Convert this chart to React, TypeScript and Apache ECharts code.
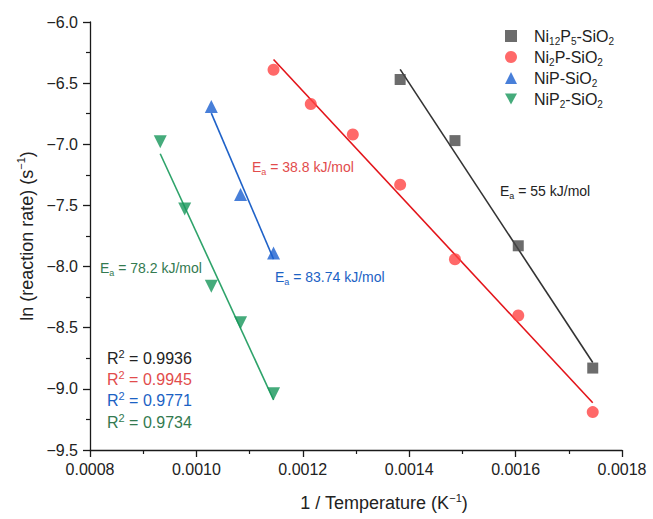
import React, { useEffect, useRef } from "react";
import * as echarts from "echarts";

// ---- data ----
const ni12p5X = [0.001383, 0.001486, 0.001605, 0.001745];
const ni12p5Y = [-6.47, -6.97, -7.83, -8.83];

const ni2pX = [0.001145, 0.001215, 0.001294, 0.001383, 0.001486, 0.001605, 0.001745];
const ni2pY = [-6.39, -6.67, -6.92, -7.33, -7.94, -8.4, -9.19];

const nipX = [0.001028, 0.001083, 0.001145];
const nipY = [-6.69, -7.41, -7.89];

const nip2X = [0.000932, 0.000978, 0.001028, 0.001083, 0.001145];
const nip2Y = [-6.98, -7.53, -8.16, -8.46, -9.04];

const seriesNames = ["Ni12P5-SiO2", "Ni2P-SiO2", "NiP-SiO2", "NiP2-SiO2"];
const legendLabels = [
  "{sp|}{n|Ni}{s|12}{n|P}{s|5}{n|-SiO}{s|2}",
  "{sp|}{n|Ni}{s|2}{n|P-SiO}{s|2}",
  "{sp|}{n|NiP-SiO}{s|2}",
  "{sp|}{n|NiP}{s|2}{n|-SiO}{s|2}",
];
const eaLabels = ["55 kJ/mol", "38.8 kJ/mol", "83.74 kJ/mol", "78.2 kJ/mol"];
const r2Labels = ["0.9936", "0.9945", "0.9771", "0.9734"];

const xTickMin = 0.0008;
const xTickMax = 0.0018;
const xTickStep = 0.0002;
const yTickMin = -9.5;
const yTickMax = -6.0;
const yTickStep = 0.5;

const pointColors = ["#474747", "#ff4444", "#1a5fcf", "#16965a"];
const lineColors = ["#333333", "#e3141a", "#1f62c8", "#2ea36a"];
const textColors = ["#222222", "#e24c4c", "#1b62c4", "#337a50"];
const symbols = ["rect", "circle", "triangle", "path://M0,0L10,0L5,9Z"];
const symbolSizes = [11, 12, 13, 13];

const FONT = "'Liberation Sans', Arial, Helvetica, sans-serif";

function fit(xs: number[], ys: number[]) {
  const n = xs.length;
  const mx = xs.reduce((a, b) => a + b, 0) / n;
  const my = ys.reduce((a, b) => a + b, 0) / n;
  let sxy = 0;
  let sxx = 0;
  for (let i = 0; i < n; i++) {
    sxy += (xs[i] - mx) * (ys[i] - my);
    sxx += (xs[i] - mx) * (xs[i] - mx);
  }
  const k = sxy / sxx;
  const b = my - k * mx;
  const x0 = Math.min(...xs);
  const x1 = Math.max(...xs);
  return [
    [x0, k * x0 + b],
    [x1, k * x1 + b],
  ];
}

function eaText(label: string, color: string, x: number, y: number) {
  return {
    type: "text",
    x,
    y,
    silent: true,
    style: {
      text: "{e|E}{a|a}{e| = " + label + "}",
      verticalAlign: "middle",
      rich: {
        e: { fontSize: 14, fontFamily: FONT, fill: color, lineHeight: 18 },
        a: { fontSize: 9, fontFamily: FONT, fill: color, lineHeight: 9, verticalAlign: "bottom" },
      },
    },
  };
}

function r2Text(label: string, color: string, x: number, y: number) {
  return {
    type: "text",
    x,
    y,
    silent: true,
    style: {
      text: "{r|R}{p|2}{r| = " + label + "}",
      verticalAlign: "middle",
      rich: {
        r: { fontSize: 16, fontFamily: FONT, fill: color, lineHeight: 20 },
        p: { fontSize: 11, fontFamily: FONT, fill: color, lineHeight: 11, verticalAlign: "top" },
      },
    },
  };
}

export default function App() {
  const ref = useRef<HTMLDivElement>(null);

  useEffect(() => {
    if (!ref.current) return;
    const chart = echarts.init(ref.current, undefined, { renderer: "svg" });
    const sets = [
      [ni12p5X, ni12p5Y],
      [ni2pX, ni2pY],
      [nipX, nipY],
      [nip2X, nip2Y],
    ];
    const scatter = sets.map((s, i) => ({
      name: seriesNames[i],
      type: "scatter",
      symbol: symbols[i],
      symbolSize: symbolSizes[i],
      itemStyle: { color: pointColors[i] },
      data: s[0].map((x, j) => [x, s[1][j]]),
      z: 3,
    }));
    const lines = sets.map((s, i) => ({
      name: "fit" + i,
      type: "line",
      showSymbol: false,
      symbol: "none",
      silent: true,
      lineStyle: { color: lineColors[i], width: 1.6 },
      data: fit(s[0], s[1]),
      z: 2,
    }));

    const axisCommon = {
      axisLine: { show: true, lineStyle: { color: "#1a1a1a", width: 1.3 } },
      axisTick: { show: true, inside: false, length: 7, lineStyle: { color: "#1a1a1a", width: 1.3 } },
      minorTick: { show: true, splitNumber: 2, length: 4, lineStyle: { color: "#1a1a1a", width: 1.2 } },
      splitLine: { show: false },
      axisLabel: { color: "#222", fontSize: 16, fontFamily: FONT },
    };

    const titleRich = {
      n: { fontSize: 18, fontFamily: FONT, color: "#222", lineHeight: 22 },
      s: { fontSize: 11, fontFamily: FONT, color: "#222", lineHeight: 12, verticalAlign: "top" },
    };

    chart.setOption({
      animation: false,
      backgroundColor: "#ffffff",
      grid: { left: 90, right: 31, top: 22, bottom: 69, containLabel: false },
      xAxis: {
        type: "value",
        min: xTickMin,
        max: xTickMax,
        interval: xTickStep,
        ...axisCommon,
        axisLabel: { ...axisCommon.axisLabel, margin: 11, formatter: (v: number) => v.toFixed(4) },
        name: "{n|1 / Temperature (K}{s|−1}{n|)}",
        nameLocation: "middle",
        nameGap: 42,
        nameTextStyle: { color: "#222", padding: [0, 0, 0, 56], rich: titleRich },
      },
      yAxis: {
        type: "value",
        min: yTickMin,
        max: yTickMax,
        interval: yTickStep,
        ...axisCommon,
        axisLabel: {
          ...axisCommon.axisLabel,
          margin: 12,
          formatter: (v: number) => v.toFixed(1).replace("-", "−"),
        },
        name: "{n|ln (reaction rate) (s}{s|−1}{n|)}",
        nameLocation: "middle",
        nameRotate: 90,
        nameGap: 52,
        nameTextStyle: { color: "#222", rich: titleRich },
      },
      legend: {
        data: seriesNames,
        orient: "vertical",
        left: 500,
        top: 23,
        itemWidth: 12,
        itemHeight: 12,
        itemGap: 3,
        formatter: (name: string) => legendLabels[seriesNames.indexOf(name)],
        textStyle: {
          color: "#222",
          rich: {
            sp: { width: 12 },
            n: { fontSize: 16, fontFamily: FONT, color: "#222", lineHeight: 20 },
            s: { fontSize: 10, fontFamily: FONT, color: "#222", lineHeight: 10, verticalAlign: "bottom" },
          },
        },
      },
      series: [...lines, ...scatter],
      graphic: [
        eaText(eaLabels[1], textColors[1], 252, 167),
        eaText(eaLabels[0], textColors[0], 500, 191),
        eaText(eaLabels[2], textColors[2], 275, 277),
        eaText(eaLabels[3], textColors[3], 100, 268),
        r2Text(r2Labels[0], textColors[0], 107, 358),
        r2Text(r2Labels[1], textColors[1], 107, 379),
        r2Text(r2Labels[2], textColors[2], 107, 400),
        r2Text(r2Labels[3], textColors[3], 107, 422),
      ],
    });
    return () => chart.dispose();
  }, []);

  return (
    <div
      ref={ref}
      style={{ position: "absolute", left: 0, top: 0, width: 653, height: 519 }}
    />
  );
}
